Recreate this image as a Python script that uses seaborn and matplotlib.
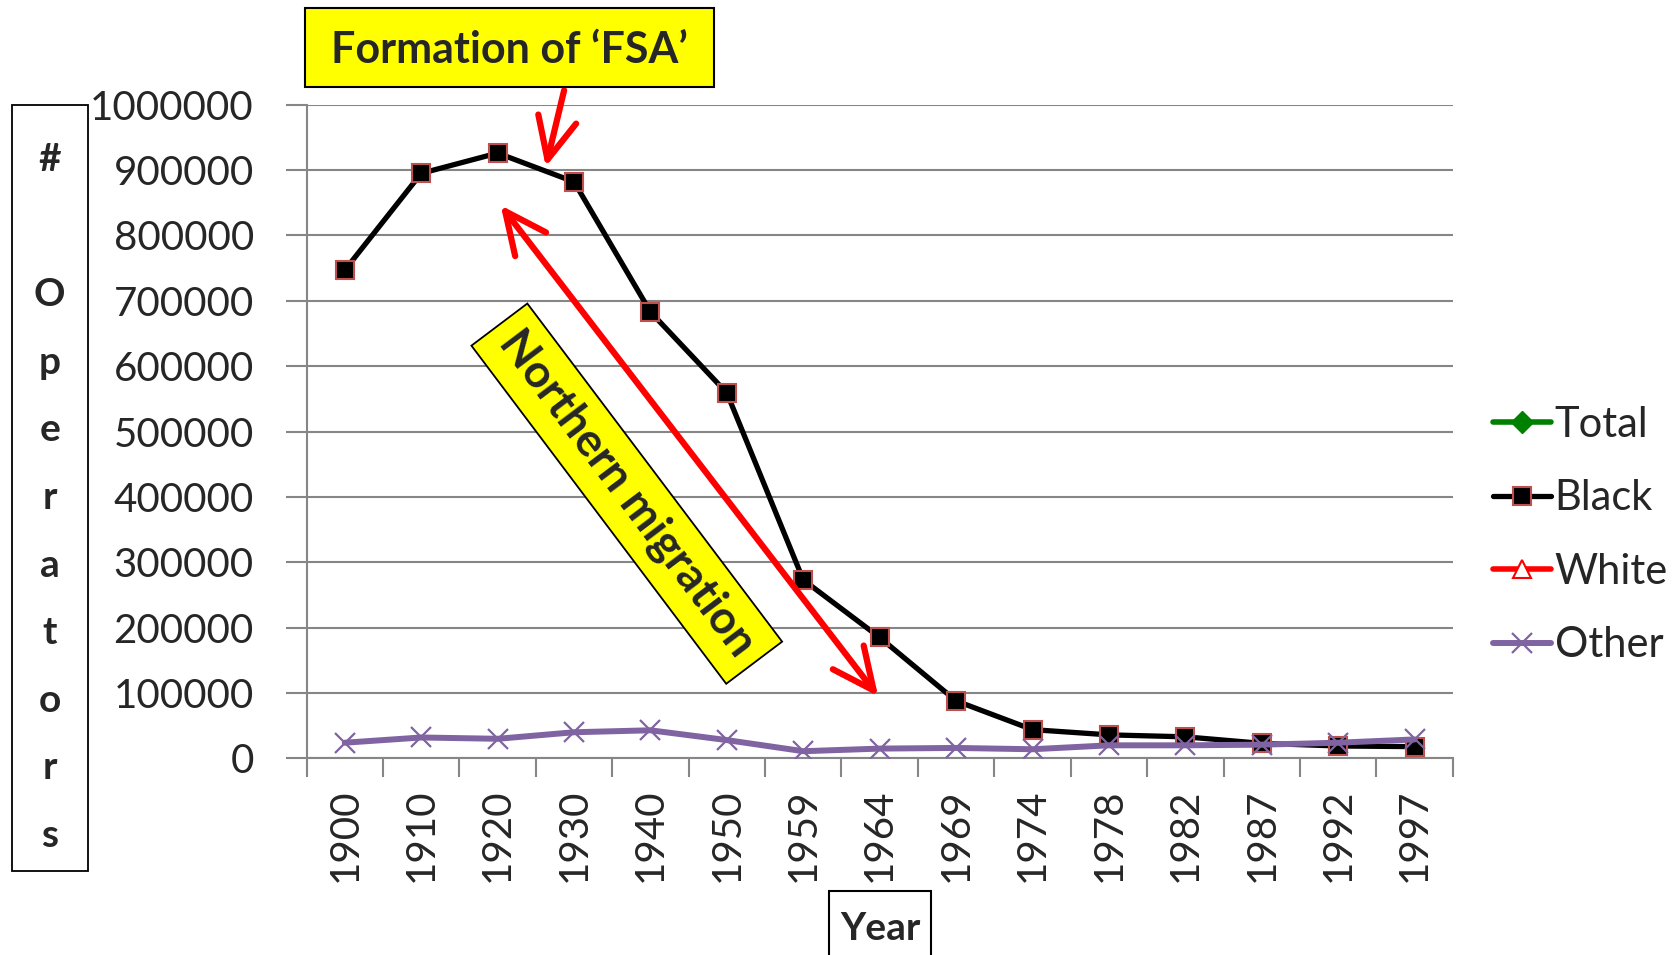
import pandas as pd
import matplotlib.pyplot as plt
import matplotlib.patches as mpatches
from matplotlib.lines import Line2D
import seaborn as sns

# data
years = ['1900', '1910', '1920', '1930', '1940', '1950', '1959', '1964',
         '1969', '1974', '1978', '1982', '1987', '1992', '1997']
black = [747000, 895000, 926000, 882000, 683000, 559000, 273000, 185000,
         88000, 44000, 36000, 33000, 23000, 19000, 18000]
other = [24000, 32000, 30000, 40000, 43000, 28000, 11000, 15000,
         16000, 14000, 20000, 20000, 21000, 24000, 29000]
series_names = ['Total', 'Black', 'White', 'Other']
y_ticks = list(range(0, 1000001, 100000))
ylabel_chars = ['#', '', 'O', 'p', 'e', 'r', 'a', 't', 'o', 'r', 's']

sns.set_theme(style='white')
plt.rcParams['font.family'] = ['Lato', 'DejaVu Sans']

W, H = 1675, 955
fig = plt.figure(figsize=(W / 100, H / 100), dpi=100)
ax = fig.add_axes([306.6 / W, 1 - 758.4 / H, (1452.8 - 306.6) / W, (758.4 - 104.7) / H])

df = pd.DataFrame({'pos': range(len(years)), 'Black': black, 'Other': other})

grey = '#868686'
sns.lineplot(data=df, x='pos', y='Black', ax=ax, color='black', lw=3.8,
             marker='s', markersize=13, markerfacecolor='black',
             markeredgecolor='#C0504D', markeredgewidth=1.5, zorder=3)
sns.lineplot(data=df, x='pos', y='Other', ax=ax, color='#8064A2', lw=4.3,
             marker='x', markersize=14, markeredgecolor='#8064A2',
             markeredgewidth=1.6, zorder=4)

ax.set_xlim(-0.5, len(years) - 0.5)
ax.set_ylim(0, 1000000)
ax.set_xlabel('')
ax.set_ylabel('')
ax.set_yticks(y_ticks)
ax.set_yticklabels([str(v) for v in y_ticks], fontsize=29)
ax.set_xticks(range(len(years)))
ax.set_xticklabels(years, rotation=90, fontsize=29)
ax.set_xticks([i - 0.5 for i in range(len(years) + 1)], minor=True)
ax.tick_params(axis='x', which='major', length=0, pad=22)
ax.tick_params(axis='x', which='minor', length=14, width=1.5, color=grey, bottom=True)
ax.tick_params(axis='y', which='major', length=15, width=1.5, color=grey, left=True, pad=23)
ax.yaxis.grid(True, color=grey, lw=1.5)
ax.xaxis.grid(False)
for s in ['top', 'right']:
    ax.spines[s].set_visible(False)
for s in ['left', 'bottom']:
    ax.spines[s].set_color(grey)
    ax.spines[s].set_linewidth(1.5)

# annotations
arrow_style = '->,head_length=0.75,head_width=0.35'
ax.annotate('', xy=(2.63, 905000), xytext=(2.87, 1022000),
            arrowprops=dict(arrowstyle=arrow_style, color='red', lw=4.5,
                            mutation_scale=40, shrinkA=0, shrinkB=0),
            annotation_clip=False, zorder=6)
ax.annotate('', xy=(6.98, 95000), xytext=(2.04, 846000),
            arrowprops=dict(arrowstyle='<' + arrow_style, color='red', lw=4.5,
                            mutation_scale=40, shrinkA=0, shrinkB=0),
            zorder=6)
ax.text(3.69, 405000, 'Northern migration', rotation=-53, rotation_mode='anchor',
        ha='center', va='center', fontsize=33, fontweight='bold',
        bbox=dict(boxstyle='square,pad=0.3', fc='yellow', ec='black', lw=1.3),
        zorder=7)

# Formation box
fig.patches.append(mpatches.Rectangle((305 / W, 1 - 87 / H), 409 / W, 79 / H,
                                      transform=fig.transFigure, fc='yellow',
                                      ec='black', lw=1.5))
fig.text(509.5 / W, 1 - 63 / H, 'Formation of \u2018FSA\u2019', ha='center',
         va='baseline', fontsize=31, fontweight='bold')

# Year box
fig.patches.append(mpatches.Rectangle((829 / W, -0.05), 102 / W, 0.05 + 1 - 891 / H,
                                      transform=fig.transFigure, fill=False,
                                      ec='black', lw=1.5))
fig.text(880 / W, 1 - 940 / H, 'Year', ha='center', va='baseline', fontsize=28,
         fontweight='bold')

# stacked y label in a box
fig.patches.append(mpatches.Rectangle((11.75 / W, 1 - 870.6 / H), 75.85 / W, 765.9 / H,
                                      transform=fig.transFigure, fill=False,
                                      ec='black', lw=1.3))
for i, ch in enumerate(ylabel_chars):
    fig.text(49.7 / W, 1 - (171 + i * 67.6) / H, ch, ha='center', va='baseline',
             fontsize=28, fontweight='bold')

# legend
handles = [
    Line2D([], [], color='#008000', lw=4, marker='D', markersize=11),
    Line2D([], [], color='black', lw=3.8, marker='s', markersize=13,
           markerfacecolor='black', markeredgecolor='#C0504D', markeredgewidth=1.5),
    Line2D([], [], color='red', lw=4, marker='^', markersize=13,
           markerfacecolor='white', markeredgecolor='red', markeredgewidth=1.5),
    Line2D([], [], color='#8064A2', lw=4.3, marker='x', markersize=14,
           markeredgewidth=1.6),
]
fig.legend(handles, series_names, loc='center left', bbox_to_anchor=(1493 / W, 1 - 535 / H),
           frameon=False, borderpad=0, borderaxespad=0, handlelength=1.4,
           handletextpad=0.08, labelspacing=0.85, prop={'size': 30})

fig.savefig('out.png', dpi=100)
